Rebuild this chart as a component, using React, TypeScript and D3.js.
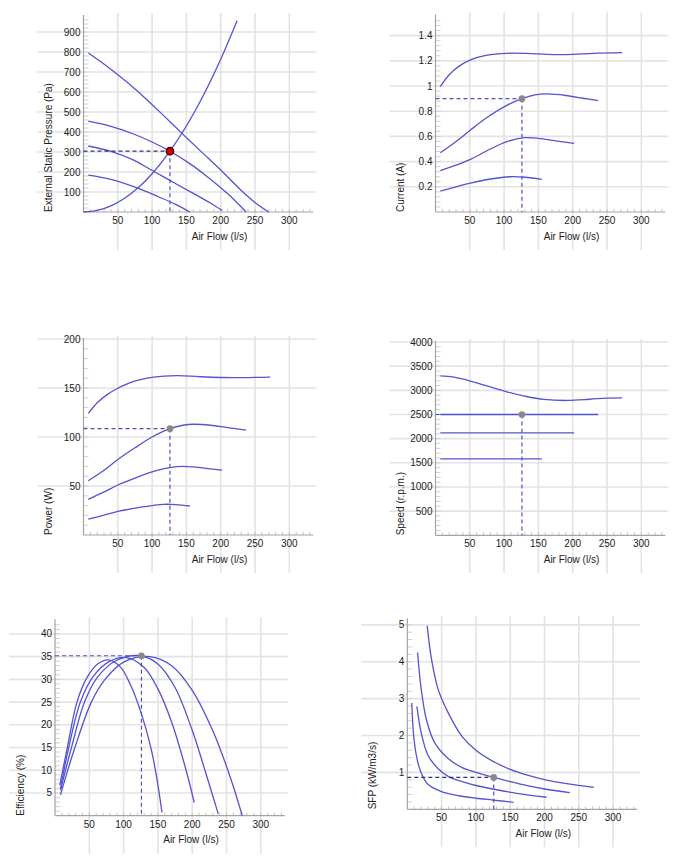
import React from "react";
import * as d3 from "d3";

type Pt = [number, number];

// Shared x axis: air flow in l/s
const flowTicks = [50, 100, 150, 200, 250, 300];
const flowMax = 335;

// Duty point
const dutyFlow = 126;
const dutyPressure = 304;
const dutyCurrent = 0.9;
const dutyPower = 108.5;
const dutySpeed = 2500;
const dutyEfficiency = 35.2;
const dutySfp = 0.865;

// External static pressure (Pa), one curve per fan speed, plus the system curve
const pressureHigh: Pt[] = [[7, 795], [25, 752], [44, 702], [70, 630], [92, 563], [118, 478], [144, 392], [170, 307], [200, 210], [230, 108], [250, 48], [270, 0]];
const pressureMidHigh: Pt[] = [[7, 454], [40, 428], [73, 390], [100, 350], [126, 304], [155, 242], [180, 178], [210, 92], [237, 0]];
const pressureMidLow: Pt[] = [[7, 330], [40, 303], [70, 264], [97, 214], [130, 150], [160, 93], [185, 45], [202, 8]];
const pressureLow: Pt[] = [[7, 184], [40, 163], [80, 118], [110, 75], [135, 37], [155, 0]];
const systemCurve: Pt[] = [[0, 0], [20, 8], [40, 31], [60, 69], [80, 122], [100, 191], [126, 304], [150, 430], [175, 585], [200, 764], [224, 958]];

// Current (A)
const currentHigh: Pt[] = [[7, 0.996], [20, 1.09], [35, 1.16], [51, 1.207], [75, 1.245], [104, 1.26], [140, 1.257], [177, 1.25], [200, 1.252], [230, 1.26], [272, 1.265]];
const currentMidHigh: Pt[] = [[7, 0.47], [30, 0.56], [51, 0.651], [75, 0.75], [100, 0.835], [126, 0.9], [145, 0.93], [163, 0.937], [190, 0.925], [215, 0.903], [237, 0.884]];
const currentMidLow: Pt[] = [[7, 0.328], [30, 0.372], [51, 0.418], [80, 0.5], [105, 0.56], [129, 0.59], [150, 0.585], [175, 0.565], [202, 0.545]];
const currentLow: Pt[] = [[7, 0.166], [30, 0.2], [51, 0.23], [80, 0.262], [109, 0.28], [130, 0.276], [155, 0.259]];

// Power (W)
const powerHigh: Pt[] = [[7, 124], [20, 135], [35, 143.5], [48, 149], [70, 156], [102, 161], [136, 162.6], [170, 161.5], [219, 160.5], [250, 160.8], [272, 161]];
const powerMidHigh: Pt[] = [[7, 55.4], [30, 66], [50, 77], [75, 89], [100, 100], [126, 108.5], [145, 112], [160, 113], [185, 112], [210, 109.5], [237, 107]];
const powerMidLow: Pt[] = [[7, 36.4], [30, 44], [50, 51], [75, 58], [100, 64.5], [136, 69.7], [160, 69.5], [185, 67.5], [202, 66.3]];
const powerLow: Pt[] = [[7, 16.3], [30, 20.3], [50, 24], [75, 27.5], [100, 30], [117, 31.3], [135, 31], [155, 29.6]];

// Speed (r.p.m.)
const speedHigh: Pt[] = [[7, 3301], [25, 3280], [46, 3212], [75, 3090], [104, 2969], [130, 2880], [158, 2811], [192, 2790], [225, 2815], [250, 2840], [272, 2845]];
const speedMidHigh: Pt[] = [[7, 2500], [237, 2500]];
const speedMidLow: Pt[] = [[7, 2120], [202, 2120]];
const speedLow: Pt[] = [[7, 1580], [155, 1580]];

// Efficiency (%)
const efficiencyHigh: Pt[] = [[8, 4.6], [29, 15], [53, 25], [73, 30], [100, 33.8], [138, 35], [170, 33], [200, 27.6], [230, 18.7], [255, 8.7], [273, 0]];
const efficiencyMidHigh: Pt[] = [[8, 5.6], [24, 15], [43, 25], [62, 30.5], [90, 34.2], [124, 35.2], [150, 33.4], [175, 28.2], [200, 18.8], [220, 9.3], [238, 0.4]];
const efficiencyMidLow: Pt[] = [[8, 6], [20, 15], [37, 25], [55, 30.5], [80, 34], [104, 34.8], [130, 32.6], [150, 27.9], [170, 20.6], [190, 10.6], [203, 2.9]];
const efficiencyLow: Pt[] = [[7, 6.8], [18, 15], [32, 25], [47, 30.5], [63, 33.5], [78, 34.3], [95, 32.8], [110, 28.8], [126, 22.4], [140, 14.8], [148, 8.6], [156, 0.7]];

// Specific fan power (kW/m3/s)
const sfpHigh: Pt[] = [[29, 4.97], [35, 4.1], [45, 3.25], [60, 2.6], [80, 1.97], [100, 1.6], [125, 1.3], [150, 1.08], [175, 0.923], [200, 0.805], [230, 0.7], [272, 0.592]];
const sfpMidHigh: Pt[] = [[15, 4.25], [20, 3.3], [28, 2.42], [40, 1.8], [60, 1.37], [80, 1.13], [100, 1.0], [126, 0.865], [150, 0.75], [175, 0.64], [200, 0.55], [237, 0.45]];
const sfpMidLow: Pt[] = [[14, 2.79], [20, 2.1], [30, 1.47], [45, 1.1], [62, 0.865], [80, 0.75], [100, 0.645], [130, 0.53], [160, 0.434], [203, 0.327]];
const sfpLow: Pt[] = [[6.5, 2.88], [10, 1.85], [15, 1.3], [20, 1.0], [30, 0.68], [50, 0.48], [75, 0.367], [100, 0.3], [125, 0.25], [155, 0.19]];

const pressureTicks = [100, 200, 300, 400, 500, 600, 700, 800, 900];
const currentTicks = [0.2, 0.4, 0.6, 0.8, 1, 1.2, 1.4];
const powerTicks = [50, 100, 150, 200];
const speedTicks = [500, 1000, 1500, 2000, 2500, 3000, 3500, 4000];
const efficiencyTicks = [5, 10, 15, 20, 25, 30, 35, 40];
const sfpTicks = [1, 2, 3, 4, 5];

const FONT = "'Liberation Sans', Arial, sans-serif";
const CURVE = "#5353d3";
const GRID = "#e3e3e3";
const AXIS = "#a3a3a3";
const PX_PER_FLOW = 34.3 / 50;

interface PanelProps {
  ox: number;
  baseline: number;
  top: number;
  yMax: number;
  yTicks: number[];
  yMinor: number;
  yLabel: string;
  curves: Pt[][];
  extra?: Pt[];
  duty: Pt;
  dotFill: string;
  dotStroke: string;
  dotR: number;
  guideH: string;
  guideV: string;
}

function Panel(p: PanelProps) {
  const x = d3.scaleLinear().domain([0, flowMax]).range([p.ox, p.ox + flowMax * PX_PER_FLOW]);
  const y = d3.scaleLinear().domain([0, p.yMax]).range([p.baseline, p.top]);
  const line = d3
    .line<Pt>()
    .x((d) => x(d[0]))
    .y((d) => y(d[1]))
    .curve(d3.curveCatmullRom.alpha(0.5));

  const minorY = d3.range(p.yMinor, p.yMax, p.yMinor);
  const minorX = d3.range(10, flowMax, 10);
  const fmt = (v: number) => String(+v.toFixed(2));
  const [dx, dy] = p.duty;

  return (
    <g>
      {/* grid */}
      {p.yTicks.map((t) => (
        <line key={"hy" + t} x1={p.ox - 46} x2={p.ox + 233} y1={y(t)} y2={y(t)} stroke={GRID} strokeWidth={1.6} />
      ))}
      {flowTicks.map((t) => (
        <line key={"vx" + t} x1={x(t)} x2={x(t)} y1={p.top - 3} y2={p.baseline + 38} stroke={GRID} strokeWidth={1.6} />
      ))}
      {/* minor ticks */}
      {minorY.map((t, i) => (
        <line key={"my" + i} x1={p.ox} x2={p.ox + 5} y1={y(t)} y2={y(t)} stroke="#d0d0d0" strokeWidth={1} />
      ))}
      {minorX.map((t, i) => (
        <line key={"mx" + i} x1={x(t)} x2={x(t)} y1={p.baseline} y2={p.baseline - 3} stroke="#c4c4c4" strokeWidth={1} />
      ))}
      {/* axes */}
      <line x1={p.ox} x2={p.ox} y1={p.top - 1} y2={p.baseline} stroke={AXIS} strokeWidth={1.2} />
      <line x1={p.ox} x2={x(flowMax)} y1={p.baseline} y2={p.baseline} stroke={AXIS} strokeWidth={1.2} />
      {/* tick labels */}
      {p.yTicks.map((t) => (
        <text key={"ly" + t} x={p.ox - 3} y={y(t)} dy="0.35em" textAnchor="end" fontSize={10} fontFamily={FONT} fill="#222">
          {fmt(t)}
        </text>
      ))}
      {flowTicks.map((t) => (
        <text key={"lx" + t} x={x(t)} y={p.baseline + 8.5} dy="0.35em" textAnchor="middle" fontSize={10} fontFamily={FONT} fill="#222">
          {t}
        </text>
      ))}
      {/* titles */}
      <text x={p.ox + 136} y={p.baseline + 24} dy="0.35em" textAnchor="middle" fontSize={10} fontFamily={FONT} fill="#222">
        Air Flow (l/s)
      </text>
      <text
        transform={`translate(${p.ox - 35},${p.baseline}) rotate(-90)`}
        dy="0.35em"
        textAnchor="start"
        fontSize={10}
        fontFamily={FONT}
        fill="#222"
      >
        {p.yLabel}
      </text>
      {/* curves */}
      {p.curves.map((c, i) => (
        <path key={"c" + i} d={line(c) || ""} fill="none" stroke={CURVE} strokeWidth={1.3} />
      ))}
      {p.extra && <path d={line(p.extra) || ""} fill="none" stroke={CURVE} strokeWidth={1.3} />}
      {/* duty point guides */}
      <line x1={p.ox} x2={x(dx)} y1={y(dy)} y2={y(dy)} stroke={p.guideH} strokeWidth={1.2} strokeDasharray="4,3" />
      <line x1={x(dx)} x2={x(dx)} y1={y(dy)} y2={p.baseline} stroke={p.guideV} strokeWidth={1.2} strokeDasharray="4,3" />
      <circle cx={x(dx)} cy={y(dy)} r={p.dotR} fill={p.dotFill} stroke={p.dotStroke} strokeWidth={1.5} />
    </g>
  );
}

export default function App() {
  const blue = "#5050c2";
  const dark = "#303078";
  const grey = "#8a8a8a";
  return (
    <svg width={692} height={866} style={{ position: "absolute", left: 0, top: 0, background: "#fff" }}>
      <Panel
        ox={83.5}
        baseline={212}
        top={16}
        yMax={980}
        yTicks={pressureTicks}
        yMinor={20}
        yLabel="External Static Pressure (Pa)"
        curves={[pressureHigh, pressureMidHigh, pressureMidLow, pressureLow]}
        extra={systemCurve}
        duty={[dutyFlow, dutyPressure]}
        dotFill="#e00000"
        dotStroke="#3a0000"
        dotR={3.6}
        guideH={dark}
        guideV={blue}
      />
      <Panel
        ox={435.5}
        baseline={212}
        top={15.5}
        yMax={1.56}
        yTicks={currentTicks}
        yMinor={0.04}
        yLabel="Current (A)"
        curves={[currentHigh, currentMidHigh, currentMidLow, currentLow]}
        duty={[dutyFlow, dutyCurrent]}
        dotFill={grey}
        dotStroke={grey}
        dotR={2.6}
        guideH={blue}
        guideV={blue}
      />
      <Panel
        ox={83.5}
        baseline={535}
        top={339}
        yMax={200}
        yTicks={powerTicks}
        yMinor={10}
        yLabel="Power (W)"
        curves={[powerHigh, powerMidHigh, powerMidLow, powerLow]}
        duty={[dutyFlow, dutyPower]}
        dotFill={grey}
        dotStroke={grey}
        dotR={2.6}
        guideH={blue}
        guideV={blue}
      />
      <Panel
        ox={435.5}
        baseline={535.3}
        top={342}
        yMax={4000}
        yTicks={speedTicks}
        yMinor={100}
        yLabel="Speed (r.p.m.)"
        curves={[speedHigh, speedMidHigh, speedMidLow, speedLow]}
        duty={[dutyFlow, dutySpeed]}
        dotFill={grey}
        dotStroke={grey}
        dotR={2.6}
        guideH={blue}
        guideV={blue}
      />
      <Panel
        ox={55}
        baseline={815.7}
        top={620.3}
        yMax={43}
        yTicks={efficiencyTicks}
        yMinor={1}
        yLabel="Efficiency (%)"
        curves={[efficiencyHigh, efficiencyMidHigh, efficiencyMidLow, efficiencyLow]}
        duty={[dutyFlow, dutyEfficiency]}
        dotFill={grey}
        dotStroke={grey}
        dotR={2.6}
        guideH={blue}
        guideV={blue}
      />
      <Panel
        ox={407.3}
        baseline={809.3}
        top={619.3}
        yMax={5.15}
        yTicks={sfpTicks}
        yMinor={0.2}
        yLabel="SFP (kW/m3/s)"
        curves={[sfpHigh, sfpMidHigh, sfpMidLow, sfpLow]}
        duty={[dutyFlow, dutySfp]}
        dotFill={grey}
        dotStroke={grey}
        dotR={2.6}
        guideH={dark}
        guideV={blue}
      />
    </svg>
  );
}
